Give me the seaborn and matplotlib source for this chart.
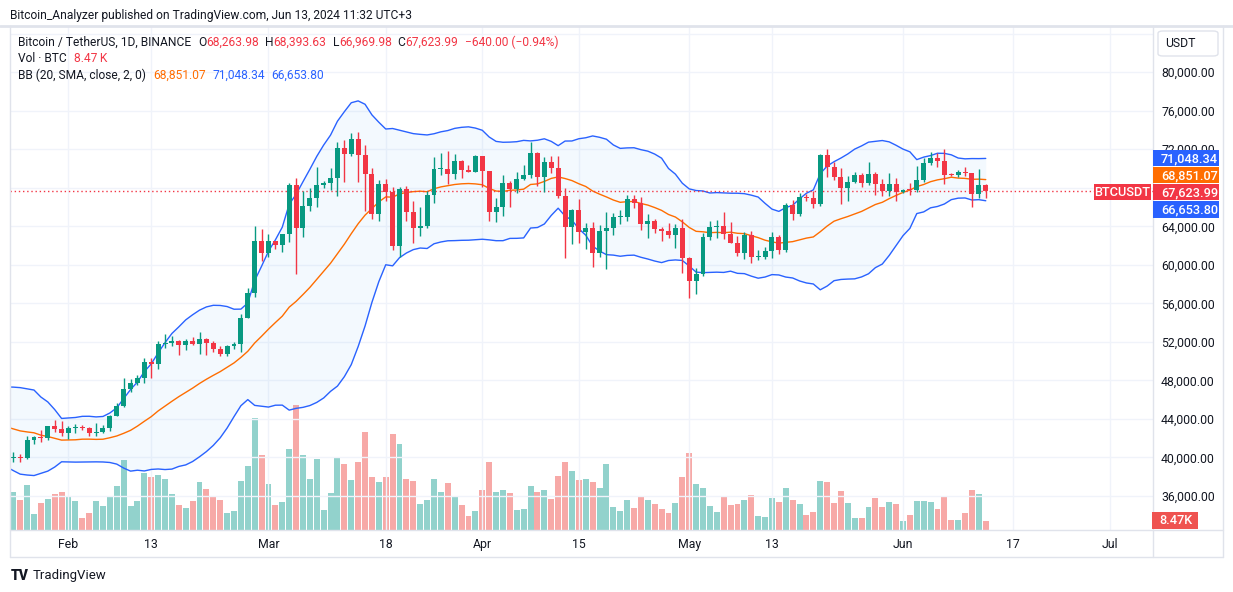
import numpy as np
import pandas as pd
import matplotlib
matplotlib.use("Agg")
import matplotlib.pyplot as plt
from matplotlib.lines import Line2D
from matplotlib.patches import Rectangle, FancyBboxPatch
import seaborn as sns

# ---- data (BTCUSDT daily, Binance) ----
start_day = "2024-01-24"
warmup_start = "2024-01-04"
# closes before the first visible candle, only needed for the 20-day bands
warmup_closes = [44151, 44146, 43968, 43929, 46951, 46110, 46633, 46339, 42782, 42847,
                 41733, 42511, 43154, 42742, 41263, 41618, 41665, 41545, 39507, 39906]

opens = [39906, 40077, 39934, 41816, 42120, 42032, 43300, 42946,
         42570, 43082, 43201, 43012, 42583, 42658, 43085, 44342, 45294, 47148,
         47751, 48299, 49917, 49700, 51795, 51880, 52124, 51642, 52137, 51775,
         52259, 51849, 51288, 50745, 51572, 51733, 54522, 57085, 62504,
         61198, 62440, 62029, 63168, 68330, 63801, 66106, 66925, 68300, 68498,
         69020, 72123, 71481, 73083, 71397, 69403, 65315, 68390, 67548, 61912,
         67913, 65491, 63778, 64062, 67234, 69958, 69987, 69455, 70745, 69892, 69645,
         71333, 69702, 65447, 65980, 68508, 67837, 68896, 69360, 71620, 69146,
         70631, 70006, 67116, 63924, 65661, 63420, 63793, 61277, 63470, 63818,
         64940, 64941, 66819, 66414, 64289, 64498, 63770, 63461, 63118, 63866,
         60672, 58364, 59060, 62882, 63892, 64012, 63166, 62313, 61193, 63074,
         60799, 60826, 61484, 62940, 61577, 66206, 65235, 67024, 66915, 66274,
         71446, 70148, 69166, 67969, 68549, 69290, 68507, 69436, 68398, 67652, 68352,
         67540, 67766, 67740, 68809, 70537, 71108, 70800, 69356, 69310, 69648,
         69508, 67321, 68263.98]
highs = [40555, 40320, 42210, 42194, 42842, 43305, 43882, 43745,
         43285, 43495, 43380, 43120, 43544, 43344, 44380, 45614, 48200, 48170,
         48592, 50334, 50368, 52043, 52816, 52575, 52160, 52350, 52485, 52985,
         52366, 52065, 51548, 51685, 51960, 54938, 57588, 64000, 63677,
         63155, 62484, 63230, 68500, 69000, 67637, 67995, 70136, 68670, 70000,
         72800, 72966, 73650, 73777, 72420, 70000, 68845, 68957, 68125, 68100,
         68200, 66650, 65999, 67622, 71150, 71561, 71769, 71552, 70930, 70355, 71377,
         71342, 69708, 66914, 69291, 68725, 69629, 70327, 72797, 71758, 71172,
         71305, 71256, 67932, 65840, 66867, 64365, 64486, 64125, 65450, 65419,
         65695, 67233, 67208, 67075, 65297, 64789, 63923, 64370, 64228, 64734,
         60780, 59625, 63320, 64540, 64646, 65500, 64422, 63020, 63410, 63469,
         61515, 61818, 63450, 63118, 66444, 66752, 67451, 67400, 67700, 71515,
         71980, 70666, 70096, 69250, 69610, 69562, 70687, 69591, 68914, 69500, 69044,
         67861, 68460, 70288, 71063, 71758, 71650, 71997, 69582, 69850, 70195,
         69563, 69999, 68393.63]
lows = [39484, 39550, 39825, 41394, 41620, 41804, 42683, 42276,
        41884, 42584, 42880, 42222, 42258, 42565, 42788, 44331, 45242, 46800,
        47557, 47711, 48300, 49225, 51314, 51566, 50625, 51168, 51716, 50760,
        50625, 50920, 50525, 50586, 51280, 50901, 54450, 56690, 60364,
        60777, 61660, 61321, 62386, 59005, 62848, 65600, 66000, 68000, 67800,
        67194, 68620, 71333, 68555, 65630, 64780, 64545, 66600, 61555, 60775,
        64529, 62260, 63000, 63825, 66385, 69280, 68360, 68903, 69050, 69601, 69623,
        68110, 64586, 64494, 65113, 66011, 67491, 68824, 69043, 68210, 67518,
        69567, 66888, 60660, 62134, 62274, 61600, 59768, 60833, 59600, 63090,
        64237, 64500, 65858, 63589, 62794, 63322, 62424, 62781, 61765, 59191,
        56552, 56937, 58848, 62541, 62822, 62700, 62261, 60888, 60648, 60187,
        60487, 60632, 60749, 61143, 61319, 64603, 65106, 66600, 65857, 66060,
        69162, 68842, 66312, 66600, 68500, 68128, 68250, 67277, 67125, 67128, 66670,
        67445, 67258, 67612, 68567, 70384, 70120, 68420, 69208, 69160, 69220,
        66051, 66902, 66969.98]
closes = [40077, 39934, 41816, 42120, 42032, 43300, 42946, 42570,
          43082, 43201, 43012, 42583, 42658, 43085, 44342, 45294, 47148, 47751,
          48299, 49917, 49700, 51795, 51880, 52124, 51642, 52137, 51775, 52259,
          51849, 51288, 50745, 51572, 51733, 54522, 57085, 62504, 61198,
          62440, 62029, 63168, 68330, 63801, 66106, 66925, 68300, 68498, 69020,
          72123, 71481, 73083, 71397, 69403, 65315, 68390, 67548, 61912, 67913,
          65491, 63778, 64062, 67234, 69958, 69987, 69455, 70745, 69892, 69645, 71333,
          69702, 65447, 65980, 68508, 67837, 68896, 69360, 71620, 69146, 70631,
          70006, 67116, 63924, 65661, 63420, 63793, 61277, 63470, 63818, 64940,
          64941, 66819, 66414, 64289, 64498, 63770, 63461, 63118, 63866, 60672,
          58364, 59060, 62882, 63892, 64012, 63166, 62313, 61193, 63074, 60799,
          60826, 61484, 62940, 61577, 66206, 65235, 67024, 66915, 66274, 71446,
          70148, 69166, 67969, 68549, 69290, 68507, 69436, 68398, 67652, 68352, 67540,
          67766, 67740, 68809, 70537, 71108, 70800, 69356, 69310, 69648, 69508,
          67321, 68263.98, 67623.99]
# volume in thousand BTC
volumes_k = [35.7, 28.2, 42.3, 15.0, 25.4, 29.1, 33.8, 35.7,
             32.0, 27.3, 11.3, 16.0, 27.3, 22.6, 31.0, 41.4, 65.8, 22.6,
             27.3, 53.6, 49.8, 51.7, 47.9, 33.8, 23.5, 20.7, 27.3, 45.1,
             38.5, 32.0, 28.2, 16.0, 17.9, 46.1, 60.2, 105.3, 70.5,
             43.2, 23.5, 26.3, 76.1, 117.5, 70.5, 47.9, 66.7, 18.8, 34.8,
             67.7, 62.0, 47.0, 63.9, 92.1, 49.8, 45.1, 49.8, 90.2, 80.8,
             47.9, 46.1, 24.4, 28.2, 47.9, 35.7, 44.2, 32.0, 23.5, 13.2, 17.9,
             37.6, 63.9, 35.7, 37.6, 34.8, 18.8, 19.7, 41.4, 35.7, 37.6,
             29.1, 50.8, 63.9, 55.5, 47.0, 47.9, 45.1, 39.5, 62.0, 21.6,
             17.9, 28.2, 20.7, 31.0, 28.2, 24.4, 19.7, 16.0, 25.4, 49.8,
             72.4, 43.2, 39.5, 22.6, 16.9, 32.0, 23.5, 24.4, 28.2, 32.9,
             13.2, 12.2, 30.1, 26.3, 39.5, 28.2, 24.4, 14.1, 16.9, 46.1,
             45.1, 25.4, 36.7, 25.4, 11.3, 11.3, 21.6, 30.1, 21.6, 26.3, 24.4,
             8.5, 14.1, 27.3, 27.3, 26.3, 19.7, 32.0, 9.4, 9.4, 16.0,
             37.6, 33.8, 8.47]

# 68,000 is covered by the price tags, so it gets a grid line but no label
price_ticks = [36000, 40000, 44000, 48000, 52000, 56000, 60000, 64000,
               72000, 76000, 80000]
grid_prices = price_ticks + [68000, 84000]
x_tick_dates = ["2024-02-01", "2024-02-13", "2024-03-01", "2024-03-18", "2024-04-01",
                "2024-04-15", "2024-05-01", "2024-05-13", "2024-06-01", "2024-06-17",
                "2024-07-01"]
x_tick_labels = ["Feb", "13", "Mar", "18", "Apr", "15", "May", "13", "Jun", "17", "Jul"]

last_price = "67,623.99"
bb_labels = ["68,851.07", "71,048.34", "66,653.80"]

# ---- frame ----
n = len(closes)
assert len(opens) == len(highs) == len(lows) == len(volumes_k) == n
dates = pd.date_range(start_day, periods=n, freq="D")

all_close = pd.Series(warmup_closes + closes,
                      index=pd.date_range(warmup_start, periods=len(warmup_closes) + n, freq="D"))
basis = all_close.rolling(20).mean()
dev = all_close.rolling(20).std(ddof=0)
bb = pd.DataFrame({"date": all_close.index, "basis": basis, "upper": basis + 2 * dev,
                   "lower": basis - 2 * dev}).dropna()

GREEN, RED = "#089981", "#F23645"
VOL_GREEN, VOL_RED = "#92D2CC", "#F7A9A7"
BLUE, ORANGE = "#2962FF", "#FF6D00"
TXT = "#131722"
LINE = "#E0E3EB"

sns.set_theme(style="white")
plt.rcParams["font.family"] = ["Roboto", "DejaVu Sans"]

W, H = 1233, 592
fig = plt.figure(figsize=(W / 100, H / 100), dpi=100)
renderer = fig.canvas.get_renderer()

def fx(px):
    return px / W

def fy(py):
    return 1 - py / H

x0, x1, y0, y1 = 10, 1153, 27, 530
pos = [fx(x0), fy(y1), fx(x1) - fx(x0), fy(y0) - fy(y1)]
ax_vol = fig.add_axes(pos, zorder=1)
ax = fig.add_axes(pos, zorder=2, sharex=ax_vol)
ax.patch.set_alpha(0)

up = np.array(closes) >= np.array(opens)

# volume
ax_vol.bar(dates, volumes_k, width=0.86, color=np.where(up, VOL_GREEN, VOL_RED), linewidth=0)
ax_vol.set_ylim(0, 473)
ax_vol.set_yticks([])
ax_vol.tick_params(axis="x", length=0, labelbottom=False)

# grid
for p in grid_prices:
    ax.axhline(p, color="#F0F3FA", lw=1, zorder=0)
for d in x_tick_dates:
    ax.axvline(pd.Timestamp(d), color="#F0F3FA", lw=1, zorder=0)

# bollinger bands
ax.fill_between(bb["date"], bb["lower"], bb["upper"], color="#2196F3", alpha=0.05,
                linewidth=0, zorder=1)
sns.lineplot(data=bb, x="date", y="upper", ax=ax, color=BLUE, lw=1, zorder=2)
sns.lineplot(data=bb, x="date", y="lower", ax=ax, color=BLUE, lw=1, zorder=2)
sns.lineplot(data=bb, x="date", y="basis", ax=ax, color=ORANGE, lw=1, zorder=2)

# candles
cols = np.where(up, GREEN, RED)
ax.vlines(dates, lows, highs, colors=cols, lw=1, zorder=3)
o = np.array(opens, dtype=float)
c = np.array(closes, dtype=float)
ax.bar(dates, np.maximum(np.abs(c - o), 110), bottom=np.minimum(o, c), width=0.72,
       color=cols, linewidth=0, zorder=4)

ax.axhline(closes[-1], color=RED, lw=1, ls=(0, (1, 2)), zorder=2.5)

ax.set_xlim(pd.Timestamp("2024-02-01") - pd.Timedelta(days=8.48),
            pd.Timestamp("2024-03-01") + pd.Timedelta(days=128.25))
ax.set_ylim(32472, 84689)
ax.set_xlabel("")
ax.set_ylabel("")
ax.yaxis.tick_right()
ax.set_yticks(price_ticks, [f"{p:,.2f}" for p in price_ticks])
ax.tick_params(axis="y", length=0, pad=5.8, labelsize=8.8, labelcolor=TXT)
ax.set_xticks([pd.Timestamp(d) for d in x_tick_dates], x_tick_labels)
ax.tick_params(axis="x", length=0, pad=6, labelsize=8.8, labelcolor=TXT)
for a in (ax, ax_vol):
    for s in a.spines.values():
        s.set_visible(False)

# frame lines
def hline(y, xa, xb, lw=1.0):
    fig.add_artist(Line2D([fx(xa), fx(xb)], [fy(y), fy(y)], color=LINE, lw=lw, zorder=5))

def vline(x, ya, yb, lw=1.0):
    fig.add_artist(Line2D([fx(x), fx(x)], [fy(ya), fy(yb)], color=LINE, lw=lw, zorder=5))

hline(26, 0, W, lw=2)
hline(530, 10, 1223)
hline(557, 10, 1223)
vline(10, 26, 557)
vline(1153, 26, 557)
vline(1223, 26, 557)

# text rows
def row(xs, yc, parts, size, x_end=None):
    def draw(sz):
        arts, x = [], xs
        for txt, col, gap in parts:
            t = fig.text(fx(x), fy(yc), txt, color=col, fontsize=sz, ha="left", va="center")
            x = t.get_window_extent(renderer).x1 + gap
            arts.append(t)
        return arts, x
    arts, xe = draw(size)
    if x_end:
        gaps = sum(g for _, _, g in parts)
        for a in arts:
            a.remove()
        size = size * (x_end - xs - gaps) / (xe - xs - gaps)
        arts, xe = draw(size)
    return size

row(10, 15, [("Bitcoin_Analyzer published on TradingView.com, Jun 13, 2024 11:32 UTC+3", TXT, 0)],
    9.5, x_end=413)
sz = row(18, 42, [("Bitcoin / TetherUS, 1D, BINANCE", TXT, 7), ("O", TXT, 0), ("68,263.98", RED, 6),
                  ("H", TXT, 0), ("68,393.63", RED, 6), ("L", TXT, 0), ("66,969.98", RED, 6),
                  ("C", TXT, 0), (last_price, RED, 7), ("\u2212640.00 (\u22120.94%)", RED, 0)],
         9.0, x_end=560)
row(18, 59, [("Vol \u00b7 BTC", TXT, 7), ("8.47\u2009K", RED, 0)], sz)
row(18, 75, [("BB (20, SMA, close, 2, 0)", TXT, 7), (bb_labels[0], ORANGE, 7),
             (bb_labels[1], BLUE, 6), (bb_labels[2], BLUE, 0)], sz)

# right axis labels
fig.add_artist(FancyBboxPatch((fx(1158), fy(56)), fx(60), 25 / H,
                              boxstyle="round,pad=0,rounding_size=0.004",
                              fc="white", ec=LINE, lw=1, zorder=6))
fig.text(fx(1165), fy(43.5), "USDT", color=TXT, fontsize=8.8, va="center", zorder=7)

def tag(xa, xb, ya, yb, text, color, tx=None, ha="left", size=9.2):
    fig.add_artist(Rectangle((fx(xa), fy(yb)), fx(xb) - fx(xa), (yb - ya) / H,
                             fc=color, ec="none", zorder=8))
    fig.text(fx(tx if tx else (xa + xb) / 2), fy((ya + yb) / 2 + 0.5), text, color="white",
             fontsize=size, ha=ha, va="center", zorder=9, fontweight="medium")

tag(1153, 1219, 150, 166, bb_labels[1], BLUE, tx=1161)
tag(1153, 1219, 167, 183, bb_labels[0], ORANGE, tx=1161)
tag(1153, 1219, 184, 200, last_price, RED, tx=1161)
tag(1153, 1219, 201, 218, bb_labels[2], BLUE, tx=1161)
tag(1094, 1151, 184, 200, "BTCUSDT", RED, ha="center")
tag(1152, 1198, 512, 529, "8.47K", "#EF5350", tx=1159)

# footer
fig.text(fx(11), fy(576), "TV", color=TXT, fontsize=10, fontweight="black", va="center")
fig.text(fx(33), fy(576), "TradingView", color=TXT, fontsize=9.5, va="center")

fig.savefig("out.png", dpi=100, facecolor="white")
